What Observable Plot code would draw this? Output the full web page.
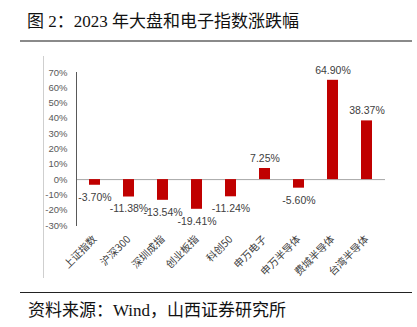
<!DOCTYPE html>
<html>
<head>
<meta charset="utf-8">
<script src="https://cdn.jsdelivr.net/npm/d3@7"></script>
<script src="https://cdn.jsdelivr.net/npm/@observablehq/plot@0.6"></script>
<style>
  html, body { margin: 0; padding: 0; background: #fff; }
  #wrap { position: relative; width: 417px; height: 327px; overflow: hidden; background: #fff; }
  #title { position: absolute; left: 27px; top: 9px; font-family: "Liberation Serif", "Noto Sans CJK SC", serif; font-size: 17px; color: #111; white-space: nowrap; line-height: 26px; }
  #tline { position: absolute; left: 20px; top: 40px; width: 392px; height: 0; border-top: 2px solid #8a8a8a; }
  #vline { position: absolute; left: 43px; top: 56px; width: 0; height: 222px; border-left: 1px solid #cfcfcf; }
  #chart { position: absolute; left: 0; top: 50px; }
  #fline { position: absolute; left: 20px; top: 292px; width: 392px; height: 0; border-top: 1px solid #222; }
  #source { position: absolute; left: 28px; top: 298px; font-family: "Liberation Serif", "Noto Sans CJK SC", serif; font-size: 17px; color: #111; white-space: nowrap; line-height: 26px; }
</style>
</head>
<body>
<div id="wrap">
  <div id="title">图 2：2023 年大盘和电子指数涨跌幅</div>
  <div id="tline"></div>
  <div id="vline"></div>
  <div id="chart"></div>
  <div id="fline"></div>
  <div id="source">资料来源：Wind，山西证券研究所</div>
</div>
<script>
const categories = ["上证指数", "沪深300", "深圳成指", "创业板指", "科创50", "申万电子", "申万半导体", "费城半导体", "台湾半导体"];
const values = [-3.70, -11.38, -13.54, -19.41, -11.24, 7.25, -5.60, 64.90, 38.37];
const yTicks = [70, 60, 50, 40, 30, 20, 10, 0, -10, -20, -30];

const data = categories.map((name, i) => ({name, value: values[i]}));
const fmt = d => d.value.toFixed(2) + "%";

const chart = Plot.plot({
  width: 417,
  height: 235,
  marginLeft: 76,
  marginRight: 32,
  marginTop: 22,
  marginBottom: 60,
  style: {fontFamily: "Arial, 'Liberation Sans', 'Noto Sans CJK SC', sans-serif", background: "transparent"},
  x: {domain: categories, paddingInner: 0.68, paddingOuter: 0.34, axis: null},
  y: {domain: [-30, 70], axis: null},
  marks: [
    Plot.axisY({ticks: yTicks, tickFormat: d => d + "%", tickSize: 0, tickPadding: 9, fontSize: 9.5, fill: "#595959", color: "#595959", label: null}),
    Plot.axisX({tickRotate: -45, tickSize: 0, tickPadding: 12, fontSize: 10.3, fill: "#404040", color: "#404040", label: null, fontFamily: "'Noto Sans CJK SC', sans-serif"}),
    Plot.ruleY([0], {stroke: "#a6a6a6"}),
    Plot.frame({anchor: "left", stroke: "#595959"}),
    Plot.barY(data, {x: "name", y: "value", fill: "#C00000"}),
    Plot.text(data.filter(d => d.value >= 0), {x: "name", y: "value", text: fmt, dy: -10, fontSize: 10.5, fill: "#404040"}),
    Plot.text(data.filter(d => d.value < 0), {x: "name", y: "value", text: fmt, dy: 12, fontSize: 10.5, fill: "#404040"})
  ]
});
document.getElementById("chart").appendChild(chart);
</script>
</body>
</html>
